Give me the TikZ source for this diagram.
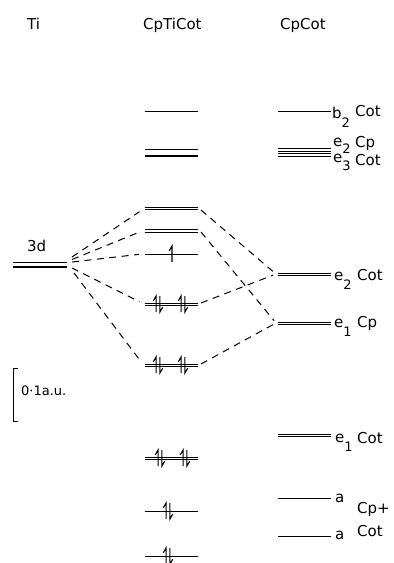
\documentclass[tikz,border=0pt]{standalone}
\usepackage{fontspec}
\setmainfont{DejaVu Sans}
\newcommand\lowsub[2][9pt]{\raisebox{-#1}{\fontsize{13}{13}\selectfont #2}}
\begin{document}
\begin{tikzpicture}[x=1pt,y=-1pt,
  lvl/.style={line width=0.9pt},
  lvlbold/.style={line width=1.8pt},
  conn/.style={line width=1pt, dash pattern=on 7pt off 5.5pt, shorten >=3pt},
  lab/.style={anchor=base west, inner sep=0pt, font=\fontsize{15}{17}\selectfont},
  spinup/.pic={\draw[line width=1.1pt] (0,8) -- (0,-8) -- (-2.8,-3.2);},
  spindn/.pic={\draw[line width=1.1pt] (0,-8) -- (0,8) -- (2.8,3.2);},
  spinpair/.pic={\pic at (-1.9,0) {spinup}; \pic at (1.9,0) {spindn};}
]
\useasboundingbox (0,0) rectangle (394,563);

% column headings
\node[lab] (hTi) at (27,29) {Ti};
\node[lab] (hMid) at (143,29) {CpTiCot};
\node[lab] (hRight) at (280,29) {CpCot};

% Ti 3d level
\draw[lvlbold] (13,262.5) -- (67,262.5);
\draw[lvlbold] (13,267) -- (67,267);
\node[lab] (l3d) at (27,251) {3d};

% CpTiCot levels
\draw[lvl] (145,111.7) -- (198,111.7);
\draw[line width=1.5pt] (145,149.3) -- (198,149.3);
\draw[line width=2.2pt] (145,156) -- (198,156);
\draw[line width=1.3pt] (145,207.5) -- (198,207.5);
\draw[line width=1.3pt] (145,209.7) -- (198,209.7);
\draw[lvl] (145,229.6) -- (198,229.6);
\draw[lvl] (145,232) -- (198,232);
\draw[lvl] (145,254) -- (198,254);
\draw[lvl] (145,303) -- (198,303);
\draw[lvl] (145,305.3) -- (198,305.3);
\draw[lvl] (145,364) -- (198,364);
\draw[lvl] (145,366.3) -- (198,366.3);
\draw[lvl] (145,457) -- (198,457);
\draw[line width=1.3pt] (145,459.4) -- (198,459.4);
\draw[lvl] (145,511) -- (198,511);
\draw[lvl] (145,556) -- (198,556);

% electrons
\pic at (172,254) {spinup};
\pic at (158,304) {spinpair};
\pic at (183,304) {spinpair};
\pic at (158,365) {spinpair};
\pic at (183,365) {spinpair};
\pic at (160,458) {spinpair};
\pic at (185,458) {spinpair};
\pic at (168,511) {spinpair};
\pic at (168,556) {spinpair};

% CpCot levels
\draw[lvl] (278,111.7) -- (331,111.7);
\draw[lvl] (278,148.8) -- (331,148.8);
\draw[lvl] (278,151.3) -- (331,151.3);
\draw[lvl] (278,153.8) -- (331,153.8);
\draw[lvl] (278,156.3) -- (331,156.3);
\draw[lvl] (278,273) -- (331,273);
\draw[lvl] (278,275.4) -- (331,275.4);
\draw[lvl] (278,322) -- (331,322);
\draw[lvl] (278,324.4) -- (331,324.4);
\draw[lvl] (278,434.5) -- (331,434.5);
\draw[lvl] (278,436.9) -- (331,436.9);
\draw[lvl] (278,498) -- (331,498);
\draw[lvl] (278,536) -- (331,536);

% CpCot labels
\node[lab] (b2) at (332,118) {b\lowsub{2}};
\node[lab] (b2t) at (355,116) {Cot};
\node[lab] (e2a) at (333,146) {e\lowsub[7pt]{2}};
\node[lab] (e2at) at (355,147) {Cp};
\node[lab] (e3) at (333,162) {e\lowsub[8pt]{3}};
\node[lab] (e3t) at (355,165) {Cot};
\node[lab] (e2b) at (334,280) {e\lowsub{2}};
\node[lab] (e2bt) at (357,280) {Cot};
\node[lab] (e1a) at (334,327) {e\lowsub{1}};
\node[lab] (e1at) at (357,327) {Cp};
\node[lab] (e1b) at (335,442) {e\lowsub{1}};
\node[lab] (e1bt) at (357,443) {Cot};
\node[lab] (a1) at (335,502) {a};
\node[lab] (a1t) at (357,513) {Cp+};
\node[lab] (a2) at (335,539) {a};
\node[lab] (a2t) at (357,536) {Cot};

% scale bar
\draw[lvl] (18,368) -- (13,368) -- (13,421.7) -- (18,421.7);
\node[anchor=base west, inner sep=0pt, font=\fontsize{13}{15}\selectfont] (scale) at (21,395) {0·1a.u.};

% connector end points
\coordinate (ti1) at (72,257);
\coordinate (ti2) at (72,259.5);
\coordinate (ti3) at (72,262);
\coordinate (ti4) at (72,268);
\coordinate (ti5) at (74,273);
\coordinate (mL1) at (142,210);
\coordinate (mL2) at (142,231);
\coordinate (mL3) at (142,254);
\coordinate (mL4) at (142,303);
\coordinate (mL5) at (142,363);
\coordinate (mR1) at (201,210);
\coordinate (mR2) at (201,232);
\coordinate (mR4) at (201,303);
\coordinate (mR5) at (201,364);
\coordinate (rE2) at (276,274);
\coordinate (rE1) at (276,323);

% correlation lines
\draw[conn] (ti1) -- (mL1);
\draw[conn] (ti2) -- (mL2);
\draw[conn] (ti3) -- (mL3);
\draw[conn] (ti4) -- (mL4);
\draw[conn] (ti5) -- (mL5);
\draw[conn] (mR1) -- (rE2);
\draw[conn] (mR4) -- (rE2);
\draw[conn] (mR2) -- (rE1);
\draw[conn] (mR5) -- (rE1);
\end{tikzpicture}
\end{document}
